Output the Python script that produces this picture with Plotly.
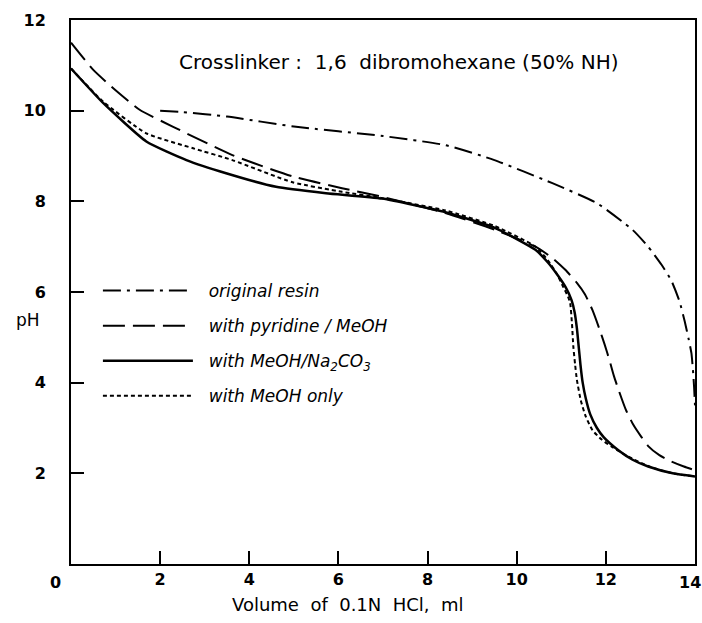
import plotly.graph_objects as go

# original resin (dash-dot)
orig_x = [2.0, 2.5, 3.5, 5.0, 7.0, 8.4, 9.5, 10.8, 11.8, 12.6, 12.95, 13.25, 13.47, 13.65, 13.77, 13.86, 13.92, 13.96, 13.98, 14.0]
orig_y = [10.0, 9.97, 9.87, 9.65, 9.44, 9.24, 8.91, 8.40, 7.96, 7.37, 7.0, 6.6, 6.25, 5.8, 5.35, 4.95, 4.65, 4.2, 3.9, 3.5]

# with pyridine / MeOH (long dash)
pyr_x = [0, 0.5, 1.0, 1.54, 2.28, 3.62, 4.97, 6.08, 6.98, 8.4, 9.52, 10.42, 10.8, 11.09, 11.35, 11.53, 11.7,
         11.85, 11.97, 12.08, 12.18, 12.3, 12.45, 12.6, 12.8, 12.95, 13.2, 13.47, 13.75, 14.0]
pyr_y = [11.5, 10.9, 10.45, 10.02, 9.65, 9.02, 8.55, 8.29, 8.10, 7.74, 7.37, 7.0, 6.75, 6.49, 6.2, 5.95, 5.6,
         5.2, 4.85, 4.5, 4.15, 3.8, 3.4, 3.1, 2.8, 2.6, 2.4, 2.26, 2.15, 2.07]

# with MeOH / Na2CO3 (solid)
na_x = [0, 0.72, 1.69, 2.59, 3.48, 4.60, 5.72, 6.98, 8.4, 9.52, 10.42, 10.7, 10.94, 11.1, 11.23, 11.3, 11.35,
        11.39, 11.43, 11.48, 11.55, 11.65, 11.8, 11.95, 12.28, 12.6, 12.95, 13.5, 14.0]
na_y = [10.93, 10.17, 9.32, 8.91, 8.62, 8.32, 8.18, 8.06, 7.76, 7.41, 6.93, 6.65, 6.34, 6.1, 5.82, 5.55, 5.2,
        4.8, 4.4, 4.0, 3.65, 3.3, 3.0, 2.8, 2.51, 2.3, 2.15, 2.0, 1.93]

# with MeOH only (short dash)
meoh_x = [0, 0.72, 1.69, 2.74, 3.62, 4.97, 6.08, 6.98, 8.4, 9.52, 10.42, 10.7, 10.9, 11.05, 11.15, 11.2, 11.24,
          11.27, 11.31, 11.35, 11.44, 11.55, 11.7, 11.9, 12.13, 12.5, 13.0, 13.5, 14.0]
meoh_y = [10.93, 10.2, 9.50, 9.17, 8.91, 8.42, 8.21, 8.07, 7.8, 7.45, 7.0, 6.7, 6.4, 6.1, 5.9, 5.75, 5.3,
          4.8, 4.4, 4.06, 3.6, 3.25, 2.95, 2.75, 2.59, 2.37, 2.14, 2.0, 1.93]

x_ticks = [2, 4, 6, 8, 10, 12, 14]
y_ticks = [2, 4, 6, 8, 10, 12]

FONT = "DejaVu Sans"
PAD = "\u00a0\u00a0"

# plot area in pixels, used to place the free texts
L, R, T, B = 71, 697, 20, 564


def px(x):
    return (x - L) / (R - L)


def py(y):
    return (B - y) / (B - T)


fig = go.Figure()

series = [
    (orig_x, orig_y, "original resin", "18px,6px,3px,6px", 2),
    (pyr_x, pyr_y, "with pyridine / MeOH", "22px,8px", 2),
    (na_x, na_y, "with MeOH/Na<sub>2</sub>CO<sub>3</sub>", "solid", 2.5),
    (meoh_x, meoh_y, "with MeOH only", "4px,3px", 2),
]

for i, (xs, ys, name, dash, w) in enumerate(series):
    fig.add_trace(go.Scatter(
        x=xs, y=ys, mode="lines", name=PAD + name, legendgroup=str(i),
        line=dict(color="black", width=w, dash=dash, shape="spline", smoothing=0.5),
    ))

texts = [
    ("Crosslinker :  1,6  dibromohexane (50% NH)", 400, 62, 20, None),
    ("pH", 28, 320, 17, None),
    ("Volume  of  0.1N  HCl,  ml", 349, 604, 18, None),
    ("0", 55, 582, 16, "bold"),
    ("14", 692, 582, 16, "bold"),
]
for text, x, y, size, weight in texts:
    fig.add_annotation(
        text=text, x=px(x), y=py(y), xref="paper", yref="paper", showarrow=False,
        xanchor="center", yanchor="middle",
        font=dict(family=FONT, size=size, color="black", weight=weight or "normal"),
    )

fig.update_layout(
    width=702, height=623,
    margin=dict(l=L, r=702 - R, t=T, b=623 - B),
    paper_bgcolor="white", plot_bgcolor="white",
    showlegend=True,
    legend=dict(
        x=px(98), y=py(273), xanchor="left", yanchor="top",
        bgcolor="rgba(0,0,0,0)", tracegroupgap=10, itemwidth=90,
        font=dict(family=FONT, size=17, color="black", style="italic"),
    ),
)

axis_common = dict(
    showgrid=False, zeroline=False, showline=True, linecolor="black", linewidth=2,
    mirror=True, ticks="inside", ticklen=13, tickwidth=1.5, tickcolor="black",
    tickfont=dict(family=FONT, size=16, color="black", weight="bold"),
)
fig.update_xaxes(range=[0, 14], tickvals=x_ticks,
                 ticktext=[str(v) if v != 14 else "" for v in x_ticks],
                 ticklabelstandoff=0, **axis_common)
fig.update_yaxes(range=[0, 12], tickvals=y_ticks, ticktext=[str(v) for v in y_ticks],
                 ticklabelstandoff=20, **axis_common)

# the page body has a default 8px margin; drop it so the figure fills the window
fig.write_html("out.html", config={"displayModeBar": False},
               post_script="document.body.style.margin='0';")
